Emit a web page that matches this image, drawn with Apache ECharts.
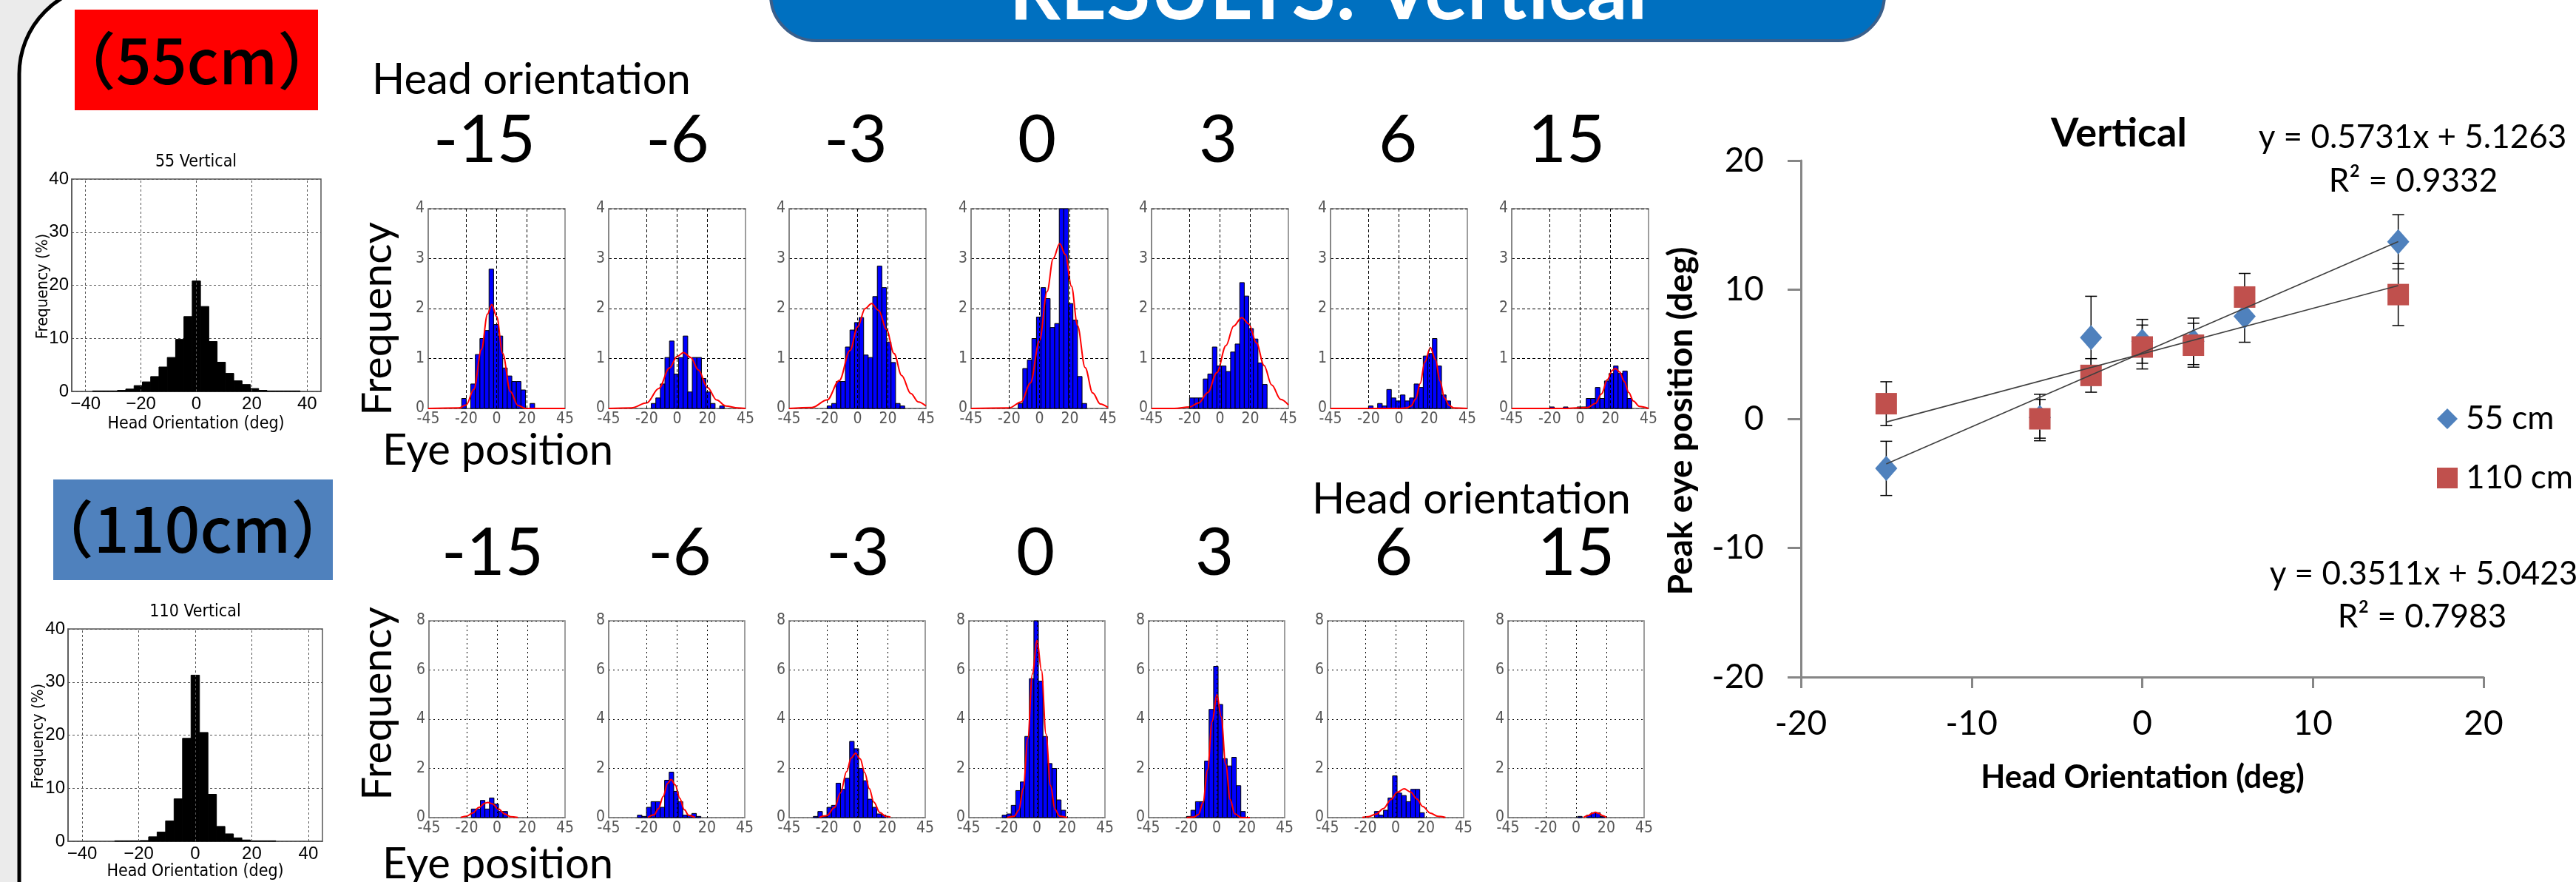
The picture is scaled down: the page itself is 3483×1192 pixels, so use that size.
<!DOCTYPE html>
<html>
<head>
<meta charset="utf-8">
<title>RESULTS: Vertical</title>
<script src="https://cdn.jsdelivr.net/npm/echarts@6.0.0/dist/echarts.min.js"></script>
<style>
html,body{margin:0;padding:0;background:#ebebeb;}
#chart{width:3483px;height:1192px;}
</style>
</head>
<body>
<div id="chart"></div>
<script>
// ================= DATA =================
const BIN = 3; // histogram bin width (deg)
const headOrientationLabels = ['-15', '-6', '-3', '0', '3', '6', '15'];
const eyeTickValues = [-45, -20, 0, 20, 45];
const headTickValues = [-40, -20, 0, 20, 40];

// Left: head-orientation distributions (%), 3-deg bins, first bin left edge
const head55Start = -37.5;
const head55Freq = [0.1, 0.1, 0.1, 0.2, 0.45, 1.1, 1.8, 2.8, 4.6, 6.4, 9.8, 14.1, 20.8, 16.0, 9.4, 5.5, 3.4, 2.0, 1.3, 0.55, 0.2, 0.1, 0.1, 0.1, 0.1];
const head110Start = -28.5;
const head110Freq = [0.1, 0.1, 0.1, 0.15, 0.85, 1.75, 3.85, 8.0, 19.4, 31.3, 20.5, 8.85, 2.8, 1.4, 0.65, 0.25, 0.1, 0.1, 0.1];

// 55 cm eye-position histograms (first bin left edge, frequencies)
const eye55Starts = [-23, -17, -20, -14, -20, -20, -20];
const eye55_m15 = [0.2, 0, 0.49, 1.08, 1.40, 1.56, 2.79, 1.68, 1.45, 0.81, 0.65, 0.54, 0.54, 0.37, 0, 0.1];
const eye55_m6 = [0.1, 0.21, 0.49, 1.02, 1.35, 0.69, 1.02, 1.45, 0.33, 1.02, 1.02, 0.6, 0.33, 0.1, 0, 0.05];
const eye55_m3 = [0.05, 0.1, 0.54, 0.54, 1.23, 1.57, 1.72, 1.82, 1.07, 1.02, 2.24, 2.85, 2.42, 1.33, 0.92, 0.1, 0.05];
const eye55_0 = [0.1, 0.8, 0.97, 1.4, 1.83, 2.42, 2.2, 1.62, 1.7, 4.6, 4.3, 2.1, 1.77, 0.64, 0.1];
const eye55_p3 = [0.21, 0.21, 0.21, 0.59, 0.69, 1.23, 0.85, 0.85, 0.74, 1.13, 1.29, 2.52, 2.25, 1.6, 1.39, 0.91, 0.48];
const eye55_p6 = [0.05, 0, 0.1, 0.05, 0.38, 0.21, 0.15, 0.27, 0.15, 0.21, 0.49, 0.42, 1.05, 1.1, 1.4, 0.85, 0.27, 0.15];
const eye55_p15 = [0.03, 0, 0, 0.03, 0, 0, 0.03, 0.03, 0.2, 0.2, 0.42, 0.2, 0.55, 0.7, 0.85, 0.7, 0.75, 0.2];

// 55 cm fitted curves [eye position, frequency]
const fit55_m15 = [[-45, 0], [-25, 0.01], [-20, 0.07], [-15, 0.38], [-10, 1.18], [-6, 1.89], [-3.2, 2.08], [0, 1.84], [4, 1.1], [9, 0.34], [14, 0.06], [19, 0], [45, 0]];
const fit55_m6 = [[-45, 0], [-30, 0.01], [-20, 0.11], [-12, 0.4], [-5, 0.81], [0, 1.04], [4.2, 1.12], [9, 1.02], [14, 0.77], [20, 0.42], [26, 0.17], [32, 0.05], [40, 0.01], [45, 0]];
const fit55_m3 = [[-45, 0], [-30, 0.02], [-20, 0.17], [-12, 0.56], [-5, 1.16], [0, 1.63], [5, 2.0], [9.2, 2.1], [14, 1.96], [19, 1.58], [24, 1.1], [29, 0.66], [35, 0.3], [40, 0.13], [45, 0.05]];
const fit55_0 = [[-45, 0], [-20, 0.01], [-12, 0.13], [-6, 0.51], [0, 1.36], [5, 2.34], [9, 3.0], [13.3, 3.3], [17, 3.08], [21, 2.45], [25, 1.66], [30, 0.82], [35, 0.31], [40, 0.09], [45, 0.02]];
const fit55_p3 = [[-45, 0], [-30, 0], [-20, 0.03], [-14, 0.11], [-8, 0.32], [-2, 0.72], [4, 1.26], [9, 1.65], [14.3, 1.82], [19, 1.69], [24, 1.31], [29, 0.86], [34, 0.47], [40, 0.18], [45, 0.07]];
const fit55_p6 = [[-45, 0], [0, 0], [5, 0.01], [8, 0.05], [11, 0.19], [14, 0.5], [17, 0.93], [20.7, 1.22], [24, 0.98], [27, 0.55], [30, 0.21], [33, 0.06], [36, 0.01], [45, 0]];
const fit55_p15 = [[-45, 0], [-10, 0], [5, 0.02], [10, 0.1], [14, 0.29], [18, 0.58], [21, 0.76], [23.2, 0.8], [26, 0.73], [29, 0.54], [32, 0.32], [35, 0.15], [39, 0.04], [45, 0]];

// 110 cm eye-position histograms
const eye110Starts = [-17, -26, -29, -23, -20, -14, 1];
const eye110_m15 = [0.35, 0.35, 0.7, 0.35, 0.8, 0.55, 0.25, 0.25];
const eye110_m6 = [0.1, 0.05, 0.42, 0.65, 0.65, 0.42, 1.52, 1.85, 1.07, 0.65, 0.1, 0.1, 0.17, 0.05];
const eye110_m3 = [0.05, 0.25, 0.05, 0.42, 0.5, 1.4, 1.15, 1.6, 3.1, 2.8, 2.0, 1.5, 0.75, 0.42, 0.15, 0.1];
const eye110_0 = [0.1, 0.15, 0.5, 1.1, 1.45, 3.3, 5.65, 8.3, 5.55, 3.3, 2.2, 2.0, 0.72, 0.3];
const eye110_p3 = [0.05, 0.3, 0.65, 0.65, 2.3, 4.4, 6.15, 4.6, 2.4, 2.1, 2.45, 1.3, 0.25];
const eye110_p6 = [0.25, 0.1, 0.3, 0.8, 1.7, 1.0, 0.9, 0.65, 1.15, 1.15, 0.2];
const eye110_p15 = [0.05, 0, 0.1, 0.2, 0.2, 0.05];

// 110 cm fitted curves
const fit110_m15 = [[-24, 0.01], [-20, 0.06], [-16, 0.19], [-12, 0.41], [-8, 0.59], [-6, 0.62], [-3, 0.56], [1, 0.35], [5, 0.15], [9, 0.04], [13.7, 0.01]];
const fit110_m6 = [[-19, 0.01], [-15, 0.11], [-12, 0.37], [-9, 0.86], [-6, 1.39], [-3.7, 1.55], [-1, 1.33], [2, 0.79], [5, 0.32], [8, 0.09], [12, 0.01]];
const fit110_m3 = [[-25, 0.01], [-20, 0.08], [-15, 0.41], [-11, 1.01], [-7, 1.87], [-4, 2.42], [-1.1, 2.62], [2, 2.39], [5, 1.83], [8, 1.18], [11, 0.63], [15, 0.21], [19, 0.05], [22, 0.02]];
const fit110_0 = [[-20, 0], [-15, 0.05], [-12, 0.3], [-9, 1.19], [-6, 3.22], [-3, 5.84], [0.1, 7.2], [3, 6.0], [6, 3.4], [9, 1.3], [12, 0.33], [15, 0.06], [20, 0]];
const fit110_p3 = [[-20, 0], [-15, 0.02], [-12, 0.13], [-9, 0.62], [-6, 1.93], [-3, 3.9], [0.2, 5.0], [3, 4.1], [6, 2.17], [9, 0.73], [12, 0.16], [16, 0.01], [22, 0]];
const fit110_p6 = [[-22, 0.01], [-18, 0.04], [-13, 0.14], [-8, 0.37], [-3, 0.74], [1, 1.03], [5.6, 1.17], [10, 1.04], [14, 0.76], [18, 0.45], [23, 0.18], [28, 0.05], [33, 0.01]];
const fit110_p15 = [[5, 0.01], [8, 0.08], [10.5, 0.17], [12.8, 0.22], [15, 0.17], [17.5, 0.08], [20, 0.01]];

// Right: peak eye position vs head orientation
const headX = [-15, -6, -3, 0, 3, 6, 15];
const peak55 = [-3.84, 0.1, 6.29, 6.0, 6.0, 7.93, 13.71];
const err55 = [2.1, 1.8, 3.2, 1.7, 1.8, 2.0, 2.1];
const peak110 = [1.17, 0.0, 3.36, 5.56, 5.7, 9.43, 9.62];
const err110 = [1.7, 1.5, 1.3, 1.7, 1.7, 1.83, 2.4];
const trend55 = [[-15, -3.5], [15, 13.72]];
const trend110 = [[-15, -0.25], [15, 10.31]];
const eq55 = 'y = 0.5731x + 5.1263';
const r2_55 = 'R\u00b2 = 0.9332';
const eq110 = 'y = 0.3511x + 5.0423';
const r2_110 = 'R\u00b2 = 0.7983';

// ================= BUILD =================
const LATO = 'Lato, "Noto Sans", sans-serif';
const CJK = '"Noto Sans CJK JP", "Noto Sans CJK SC", sans-serif';
const SMALL = '"Liberation Sans Narrow", "DejaVu Sans Condensed", "Liberation Sans", sans-serif';
const ARIAL = '"Liberation Sans", Arial, sans-serif';

const grids = [], xAxes = [], yAxes = [], series = [], graphics = [];

function barRender(fill, stroke) {
  return function (params, api) {
    const x0 = api.value(0), v = api.value(1);
    if (!(v > 0)) return null;
    const a = api.coord([x0, v]);
    const b = api.coord([x0 + BIN, 0]);
    const cs = params.coordSys;
    let top = Math.max(a[1], cs.y);
    return {
      type: 'rect',
      shape: { x: a[0], y: top, width: b[0] - a[0], height: b[1] - top },
      style: { fill: fill, stroke: stroke, lineWidth: 1 }
    };
  };
}

function addPanel(cfg) {
  const gi = grids.length;
  grids.push({ left: cfg.left, top: cfg.top, width: cfg.width, height: cfg.height, show: true,
    backgroundColor: '#fff', borderColor: cfg.border, borderWidth: 1.5 });
  xAxes.push({ gridIndex: gi, type: 'value', min: -45, max: 45, interval: 5,
    axisLine: { show: true, onZero: false, lineStyle: { color: cfg.border, width: 1.5 } },
    axisTick: { show: false }, splitLine: { show: false },
    axisLabel: { showMinLabel: true, showMaxLabel: true, margin: cfg.xMargin,
      formatter: v => cfg.ticks.includes(v) ? cfg.fmt(v) : '',
      color: cfg.labelColor, fontSize: cfg.fontSize, fontFamily: cfg.font } });
  yAxes.push({ gridIndex: gi, type: 'value', min: 0, max: cfg.ymax, interval: cfg.yint,
    axisLine: { show: true, onZero: false, lineStyle: { color: cfg.border, width: 1.5 } },
    axisTick: { show: false },
    splitLine: { show: true, lineStyle: { type: cfg.dash, color: cfg.gridColor, width: 1 } },
    axisLabel: { margin: cfg.yMargin, color: cfg.labelColor, fontSize: cfg.fontSize, fontFamily: cfg.font } });
  // vertical grid lines
  series.push({ type: 'line', xAxisIndex: gi, yAxisIndex: gi, data: [[-45, 0]], symbol: 'none',
    lineStyle: { width: 0 }, silent: true, z: 1,
    markLine: { silent: true, symbol: 'none', animation: false, label: { show: false },
      lineStyle: { type: cfg.dash, color: cfg.gridColor, width: 1 },
      data: cfg.gridX.map(v => ({ xAxis: v })) } });
  series.push({ type: 'custom', xAxisIndex: gi, yAxisIndex: gi, z: 2, silent: true,
    renderItem: barRender(cfg.barFill, cfg.barStroke),
    data: cfg.vals.map((v, i) => [cfg.start + BIN * i, v]) });
  if (cfg.fit) {
    series.push({ type: 'line', xAxisIndex: gi, yAxisIndex: gi, z: 3, silent: true, data: cfg.fit,
      smooth: 0.35, smoothMonotone: 'x', symbol: 'none', clip: true,
      lineStyle: { color: '#ff0000', width: 2 } });
  }
}

// Left summary histograms
addPanel({ left: 97, top: 242, width: 337, height: 287, border: '#555', ymax: 40, yint: 10,
  dash: [3, 3], gridColor: '#555', gridX: headTickValues, ticks: headTickValues,
  fmt: v => String(v).replace('-', '\u2212'), labelColor: '#000', fontSize: 24, font: ARIAL,
  xMargin: 5, yMargin: 4, start: head55Start, vals: head55Freq, barFill: '#000', barStroke: '#000' });
addPanel({ left: 92, top: 850, width: 344, height: 287, border: '#555', ymax: 40, yint: 10,
  dash: [3, 3], gridColor: '#555', gridX: headTickValues, ticks: headTickValues,
  fmt: v => String(v).replace('-', '\u2212'), labelColor: '#000', fontSize: 24, font: ARIAL,
  xMargin: 5, yMargin: 4, start: head110Start, vals: head110Freq, barFill: '#000', barStroke: '#000' });

// Small panels
const topLefts = [579, 823, 1067, 1313, 1557, 1799, 2044];
const botLefts = [580, 823, 1067, 1310, 1553, 1795, 2039];
const eye55 = [eye55_m15, eye55_m6, eye55_m3, eye55_0, eye55_p3, eye55_p6, eye55_p15];
const fits55 = [fit55_m15, fit55_m6, fit55_m3, fit55_0, fit55_p3, fit55_p6, fit55_p15];
const eye110 = [eye110_m15, eye110_m6, eye110_m3, eye110_0, eye110_p3, eye110_p6, eye110_p15];
const fits110 = [fit110_m15, fit110_m6, fit110_m3, fit110_0, fit110_p3, fit110_p6, fit110_p15];

for (let i = 0; i < 7; i++) {
  addPanel({ left: topLefts[i], top: 282, width: 185, height: 270, border: '#7f7f7f', ymax: 4, yint: 1,
    dash: [4, 3], gridColor: '#000', gridX: [-20, 0, 20], ticks: eyeTickValues, fmt: v => String(v),
    labelColor: '#555', fontSize: 21, font: SMALL, xMargin: 4, yMargin: 5,
    start: eye55Starts[i], vals: eye55[i], barFill: '#0000ff', barStroke: '#000', fit: fits55[i] });
  addPanel({ left: botLefts[i], top: 839, width: 184, height: 266, border: '#7f7f7f', ymax: 8, yint: 2,
    dash: [2, 4], gridColor: '#000', gridX: [-20, 0, 20], ticks: eyeTickValues, fmt: v => String(v),
    labelColor: '#555', fontSize: 21, font: SMALL, xMargin: 4, yMargin: 5,
    start: eye110Starts[i], vals: eye110[i], barFill: '#0000ff', barStroke: '#000', fit: fits110[i] });
}

// Scatter panel
const sg = grids.length;
grids.push({ left: 2435, top: 217, width: 923, height: 698, show: false });
const axisGray = '#868686';
xAxes.push({ gridIndex: sg, type: 'value', min: -20, max: 20, interval: 10,
  axisLine: { show: true, onZero: false, lineStyle: { color: axisGray, width: 3 } },
  axisTick: { show: true, length: 15, lineStyle: { color: axisGray, width: 3 } },
  splitLine: { show: false },
  axisLabel: { margin: 40, fontSize: 46, color: '#000', fontFamily: LATO } });
yAxes.push({ gridIndex: sg, type: 'value', min: -20, max: 20, interval: 10,
  axisLine: { show: true, onZero: false, lineStyle: { color: axisGray, width: 3 } },
  axisTick: { show: true, length: 18, lineStyle: { color: axisGray, width: 3 } },
  splitLine: { show: false },
  axisLabel: { margin: 50, fontSize: 46, color: '#000', fontFamily: LATO } });

function errRender(params, api) {
  const x = api.value(0), y = api.value(1), e = api.value(2);
  const t = api.coord([x, y + e]), b = api.coord([x, y - e]);
  const cw = 8, st = { stroke: '#000', lineWidth: 1.5 };
  return { type: 'group', children: [
    { type: 'line', shape: { x1: t[0], y1: t[1], x2: b[0], y2: b[1] }, style: st },
    { type: 'line', shape: { x1: t[0] - cw, y1: t[1], x2: t[0] + cw, y2: t[1] }, style: st },
    { type: 'line', shape: { x1: b[0] - cw, y1: b[1], x2: b[0] + cw, y2: b[1] }, style: st }
  ] };
}
series.push({ type: 'custom', xAxisIndex: sg, yAxisIndex: sg, z: 3, silent: true, renderItem: errRender,
  data: headX.map((x, i) => [x, peak55[i], err55[i]]) });
series.push({ type: 'custom', xAxisIndex: sg, yAxisIndex: sg, z: 3, silent: true, renderItem: errRender,
  data: headX.map((x, i) => [x, peak110[i], err110[i]]) });
series.push({ name: '55 cm', type: 'scatter', xAxisIndex: sg, yAxisIndex: sg, z: 4,
  symbol: 'diamond', symbolSize: [30, 34], itemStyle: { color: '#4f81bd', opacity: 1 },
  data: headX.map((x, i) => [x, peak55[i]]) });
series.push({ name: '110 cm', type: 'scatter', xAxisIndex: sg, yAxisIndex: sg, z: 5,
  symbol: 'rect', symbolSize: 29, itemStyle: { color: '#c0504d', opacity: 1 },
  data: headX.map((x, i) => [x, peak110[i]]) });
series.push({ type: 'line', xAxisIndex: sg, yAxisIndex: sg, z: 6, silent: true, data: trend55,
  symbol: 'none', lineStyle: { color: '#404040', width: 1.6 } });
series.push({ type: 'line', xAxisIndex: sg, yAxisIndex: sg, z: 6, silent: true, data: trend110,
  symbol: 'none', lineStyle: { color: '#404040', width: 1.6 } });

// ================= GRAPHICS (frame, boxes, text) =================
function txt(text, x, y, size, opts) {
  opts = opts || {};
  const align = opts.align || 'center';
  return { type: 'text', x: x, y: y, z: 50, rotation: opts.rotation || 0, silent: true,
    style: { text: text, fill: opts.color || '#000', fontSize: size, fontFamily: opts.font || LATO,
      fontWeight: opts.weight || 'normal', align: align, textAlign: align,
      verticalAlign: 'middle', textVerticalAlign: 'middle' } };
}

graphics.push({ type: 'rect', z: -100, silent: true, shape: { x: 26, y: -20, width: 3600, height: 1400, r: 120 },
  style: { fill: '#ffffff', stroke: '#000', lineWidth: 5 } });
// banner
graphics.push({ type: 'rect', z: -90, silent: true, shape: { x: 1042, y: -120, width: 1506, height: 175, r: 62 },
  style: { fill: '#0070c0', stroke: '#3a5f8b', lineWidth: 4 } });
graphics.push(txt('RESULTS: Vertical', 1796, -9, 108, { color: '#fff', weight: 'bold' }));
// distance boxes
graphics.push({ type: 'rect', z: -90, silent: true, shape: { x: 101, y: 13, width: 329, height: 136 }, style: { fill: '#ff0000' } });
graphics.push(txt('\uff0855cm\uff09', 266, 82, 84, { font: CJK, weight: 500 }));
graphics.push({ type: 'rect', z: -90, silent: true, shape: { x: 72, y: 648, width: 378, height: 136 }, style: { fill: '#4f81bd' } });
graphics.push(txt('\uff08110cm\uff09', 260, 715, 84, { font: CJK, weight: 500 }));
// left histogram texts
graphics.push(txt('55 Vertical', 265, 219, 23, { font: SMALL }));
graphics.push(txt('Frequency (%)', 58, 387, 22, { font: SMALL, rotation: Math.PI / 2 }));
graphics.push(txt('Head Orientation (deg)', 265, 573, 23, { font: SMALL }));
graphics.push(txt('110 Vertical', 264, 827, 23, { font: SMALL }));
graphics.push(txt('Frequency (%)', 52, 995, 22, { font: SMALL, rotation: Math.PI / 2 }));
graphics.push(txt('Head Orientation (deg)', 264, 1178, 23, { font: SMALL }));
// small histogram texts
graphics.push(txt('Head orientation', 503, 108, 58, { align: 'left' }));
graphics.push(txt('Head orientation', 1774, 675, 58, { align: 'left' }));
const topNumX = [655, 916, 1157, 1402, 1647, 1890, 2118];
const botNumX = [666, 919, 1160, 1400, 1642, 1884, 2131];
headOrientationLabels.forEach((s, i) => {
  graphics.push(txt(s, topNumX[i], 190, 90));
  graphics.push(txt(s, botNumX[i], 748, 90));
});
graphics.push(txt('Frequency', 511, 431, 57, { rotation: Math.PI / 2 }));
graphics.push(txt('Frequency', 511, 951, 57, { rotation: Math.PI / 2 }));
graphics.push(txt('Eye position', 517, 609, 58, { align: 'left' }));
graphics.push(txt('Eye position', 517, 1168, 58, { align: 'left' }));
// scatter texts
graphics.push(txt('Vertical', 2865, 181, 54, { weight: 'bold' }));
graphics.push(txt(eq55, 3262, 186, 44));
graphics.push(txt(r2_55, 3263, 245, 44));
graphics.push(txt(eq110, 3277, 776, 44));
graphics.push(txt(r2_110, 3275, 834, 44));
graphics.push(txt('Peak eye position (deg)', 2273, 569, 46, { weight: 'bold', rotation: Math.PI / 2 }));
graphics.push(txt('Head Orientation (deg)', 2897, 1051, 43, { weight: 'bold' }));

const option = {
  animation: false,
  backgroundColor: '#ebebeb',
  grid: grids,
  xAxis: xAxes,
  yAxis: yAxes,
  series: series,
  legend: { data: ['55 cm', '110 cm'], orient: 'vertical', left: 3290, top: 539, itemWidth: 28, itemHeight: 28,
    itemGap: 36, selectedMode: false,
    textStyle: { fontSize: 44, fontFamily: LATO, color: '#000', padding: [0, 0, 0, 6] } },
  graphic: { elements: graphics }
};

const chart = echarts.init(document.getElementById('chart'), null, { renderer: 'canvas', width: 3483, height: 1192 });
chart.setOption(option);
</script>
</body>
</html>
